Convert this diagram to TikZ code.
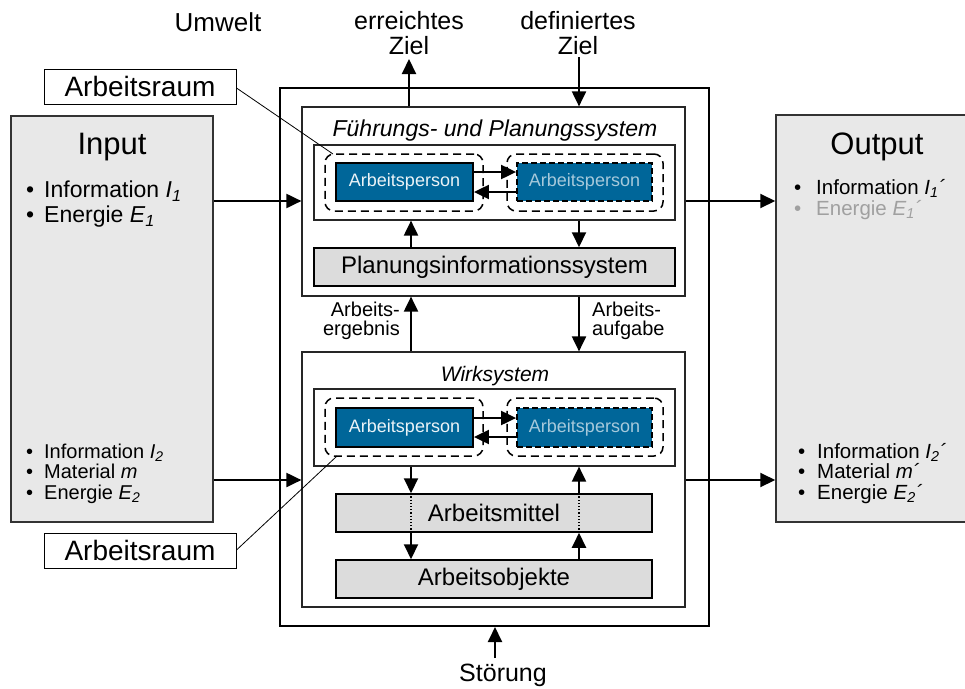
\documentclass[tikz,border=0pt]{standalone}
\usepackage{fontspec}
\setmainfont{Liberation Sans}
\usetikzlibrary{arrows.meta}
\definecolor{apblue}{HTML}{006699}
\definecolor{iofill}{HTML}{E8E8E8}
\definecolor{boxfill}{HTML}{DCDCDC}
\definecolor{grayTxt}{HTML}{A0A0A0}
\newcommand{\fs}[2]{\fontsize{#1}{#2}\selectfont}
\newcommand{\bul}{\makebox[18pt][l]{•}}
\begin{document}
\begin{tikzpicture}[x=1pt,y=-1pt,
  outerbox/.style={draw=black,line width=2pt,inner sep=0pt},
  subbox/.style={draw=black!85,line width=1.2pt,fill=white,inner sep=0pt},
  dashbox/.style={draw=black,line width=1.5pt,dash pattern=on 8pt off 5pt,rounded corners=9pt,inner sep=0pt},
  apbox/.style={fill=apblue,line width=1.8pt,inner sep=0pt,minimum width=137pt,minimum height=38pt,font=\fs{18}{20}},
  graybox/.style={draw=black,line width=1.5pt,fill=boxfill,inner sep=0pt,font=\fs{24}{26}},
  iobox/.style={draw=black!80,line width=1.5pt,fill=iofill,inner sep=0pt},
  lbl/.style={inner sep=0pt,align=center},
  arr/.style={line width=2pt,-{Triangle[length=15pt,width=14pt]}},
  thin/.style={line width=0.8pt},
]
\useasboundingbox (0,0) rectangle (965,688);
% input / output boxes
\node[iobox,minimum width=202pt,minimum height=406pt] (inp) at (112,319) {};
\node[iobox,minimum width=200pt,minimum height=407pt] (outp) at (876,318.5) {};
% outer system box
\node[outerbox,minimum width=429pt,minimum height=538pt] (sys) at (494.5,357) {};
% top subsystem
\node[subbox,minimum width=383pt,minimum height=189pt] (fps) at (493.5,201.5) {};
\node[subbox,minimum width=361pt,minimum height=75pt] (ar1) at (494.5,182.5) {};
\node[dashbox,minimum width=158pt,minimum height=57pt] (dl1) at (404,182.5) {};
\node[dashbox,minimum width=156pt,minimum height=57pt] (dr1) at (585,182.5) {};
\node[apbox,draw=black,text=white!92!apblue] (apl1) at (404.5,182) {Arbeitsperson};
\node[apbox,draw=black,dash pattern=on 6pt off 3pt,minimum width=135pt,text=white!65!apblue] (apr1) at (584.5,182) {Arbeitsperson};
\node[graybox,minimum width=361pt,minimum height=38pt] (pis) at (494.5,267) {Planungsinformationssystem};
\node[lbl,font=\fs{23}{25}\itshape] (fpst) at (495,131) {Führungs- und Planungssystem};
% lower subsystem
\node[subbox,minimum width=383pt,minimum height=255pt] (ws) at (493.5,479.5) {};
\node[subbox,minimum width=361pt,minimum height=77pt] (ar2) at (494.5,427.5) {};
\node[dashbox,minimum width=158pt,minimum height=58pt] (dl2) at (404,427) {};
\node[dashbox,minimum width=156pt,minimum height=58pt] (dr2) at (585,427) {};
\node[apbox,draw=black,text=white!92!apblue,minimum height=39pt] (apl2) at (404.5,427.5) {Arbeitsperson};
\node[apbox,draw=black,dash pattern=on 6pt off 3pt,minimum width=135pt,minimum height=39pt,text=white!65!apblue] (apr2) at (584.5,427.5) {Arbeitsperson};
\node[graybox,minimum width=316pt,minimum height=38pt] (am) at (494,513) {Arbeitsmittel};
\node[graybox,minimum width=316pt,minimum height=38pt] (ao) at (494,579) {Arbeitsobjekte};
\node[lbl,font=\fs{21}{23}\itshape] (wst) at (495,376) {Wirksystem};
% labels outside
\node[lbl,font=\fs{26}{28}] (umw) at (218,22) {Umwelt};
\node[lbl,font=\fs{25}{25}] (ez) at (409,33) {erreichtes\\Ziel};
\node[lbl,font=\fs{25}{25}] (dz) at (578,33) {definiertes\\Ziel};
\coordinate (ezs) at (409,59);
\coordinate (dzs) at (579,57);
\node[lbl,font=\fs{25}{27}] (stg) at (503,675) {Störung};
\coordinate (stgs) at (495,658);
\node[lbl,font=\fs{20}{19},align=right,anchor=east] (aerg) at (400,321) {Arbeits-\\ergebnis};
\node[lbl,font=\fs{20}{19},align=left,anchor=west] (aauf) at (592,321) {Arbeits-\\aufgabe};
\node[draw=black,line width=1pt,fill=white,minimum width=192pt,minimum height=35pt,inner sep=0pt,font=\fs{28}{30}] (ar1l) at (140,86.5) {Arbeitsraum};
\node[draw=black,line width=1pt,fill=white,minimum width=192pt,minimum height=35pt,inner sep=0pt,font=\fs{28}{30}] (ar2l) at (140,550.5) {Arbeitsraum};
% Input / Output texts
\node[lbl,font=\fs{31}{33}] (inpt) at (112,147) {Input};
\node[lbl,font=\fs{31}{33}] (outpt) at (877,147) {Output};
\node[lbl,font=\fs{23}{25},align=left,anchor=west] (in1) at (26,204.5) {\bul Information \textit{I}\textsubscript{\textit{1}}\\\bul Energie \textit{E}\textsubscript{\textit{1}}};
\node[lbl,font=\fs{20}{20.5},align=left,anchor=west] (in2) at (26,473.5) {\bul Information \textit{I}\textsubscript{\textit{2}}\\\bul Material \textit{m}\\\bul Energie \textit{E}\textsubscript{\textit{2}}};
\node[lbl,font=\fs{20.5}{21},align=left,anchor=west] (out1) at (794,199.5) {\makebox[22pt][l]{•}Information \textit{I}\textsubscript{\textit{1}}\textit{´}\\\color{grayTxt}\makebox[22pt][l]{•}Energie \textit{E}\textsubscript{\textit{1}}\textit{´}};
\node[lbl,font=\fs{20.5}{20.5},align=left,anchor=west] (out2) at (798,473.5) {\makebox[19pt][l]{•}Information \textit{I}\textsubscript{\textit{2}}\textit{´}\\\makebox[19pt][l]{•}Material \textit{m´}\\\makebox[19pt][l]{•}Energie \textit{E}\textsubscript{\textit{2}}\textit{´}};
% connectors
\draw[arr] (fps.north -| ezs) -- (ezs);
\draw[arr] (dzs) -- (fps.north -| dzs);
\draw[arr] (inp.east |- 0,201) -- (fps.west |- 0,201);
\draw[arr] (fps.east |- 0,201) -- (outp.west |- 0,201);
\draw[arr] (inp.east |- 0,480) -- (ws.west |- 0,480);
\draw[arr] (ws.east |- 0,480) -- (outp.west |- 0,480);
\draw[arr] (apl1.east |- 0,172) -- (apr1.west |- 0,172);
\draw[arr] (apr1.west |- 0,192) -- (apl1.east |- 0,192);
\draw[arr] (apl2.east |- 0,418) -- (apr2.west |- 0,418);
\draw[arr] (apr2.west |- 0,437) -- (apl2.east |- 0,437);
\draw[arr] (pis.north -| 411,0) -- (ar1.south -| 411,0);
\draw[arr] (ar1.south -| 579,0) -- (pis.north -| 579,0);
\draw[arr] (ws.north -| 411,0) -- (fps.south -| 411,0);
\draw[arr] (fps.south -| 579,0) -- (ws.north -| 579,0);
\draw[arr] (ar2.south -| 411,0) -- (am.north -| 411,0);
\draw[line width=1.2pt,dotted] (am.north -| 411,0) -- (am.south -| 411,0);
\draw[arr] (am.south -| 411,0) -- (ao.north -| 411,0);
\draw[arr] (ao.north -| 579,0) -- (am.south -| 579,0);
\draw[line width=1.2pt,dotted] (am.south -| 579,0) -- (am.north -| 579,0);
\draw[arr] (am.north -| 579,0) -- (ar2.south -| 579,0);
\draw[arr] (stgs) -- (sys.south -| stgs);
\draw[thin] (ar1l.east |- 0,88) -- (333,154);
\draw[thin] (ar2l.east |- 0,550) -- (337,456);
\end{tikzpicture}
\end{document}
